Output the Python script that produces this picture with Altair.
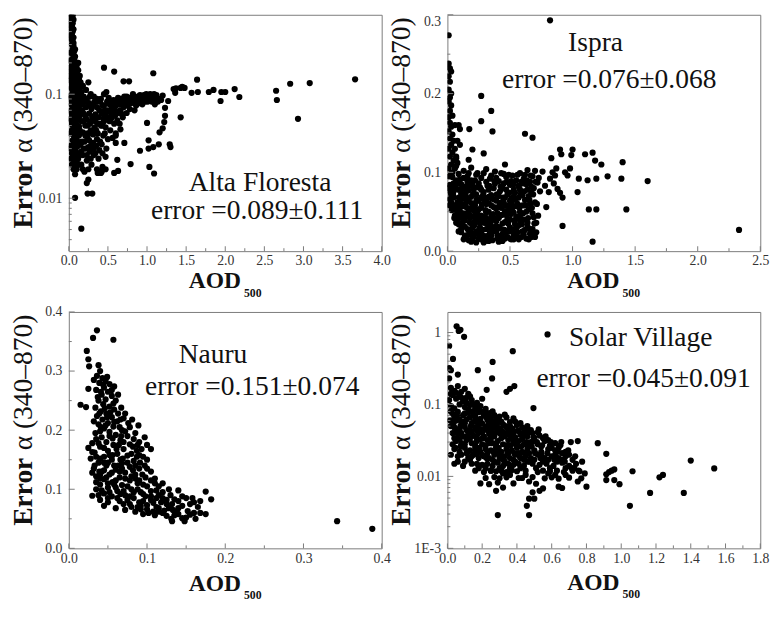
import altair as alt
import pandas as pd

# ---------------- data (AOD500, Error alpha) ----------------
alta_pts = [
    (0.03,0.58),(0.05,0.57),(0.04,0.54),(0.03,0.50),(0.05,0.48),(0.04,0.45),(0.03,0.42),(0.05,0.40),(0.04,0.37),
    (0.06,0.35),(0.03,0.34),(0.05,0.32),(0.04,0.30),(0.06,0.29),(0.05,0.27),(0.07,0.26),(0.04,0.25),(0.06,0.24),
    (0.08,0.23),(0.05,0.22),(0.07,0.215),(0.03,0.21),(0.09,0.20),(0.06,0.195),(0.04,0.19),(0.08,0.185),(0.10,0.18),
    (0.05,0.175),(0.07,0.17),(0.12,0.17),(0.03,0.165),(0.09,0.16),(0.06,0.155),(0.11,0.15),(0.04,0.145),(0.08,0.14),
    (0.13,0.14),(0.02,0.135),(0.06,0.13),(0.10,0.13),(0.15,0.13),(0.04,0.125),(0.08,0.12),(0.12,0.12),(0.03,0.115),
    (0.06,0.11),(0.10,0.11),(0.14,0.11),(0.05,0.105),(0.09,0.10),(0.13,0.10),(0.02,0.097),(0.07,0.095),(0.11,0.094),
    (0.16,0.095),(0.04,0.09),(0.09,0.088),(0.14,0.088),(0.06,0.084),(0.12,0.082),(0.03,0.08),(0.08,0.078),(0.15,0.079),
    (0.05,0.074),(0.10,0.073),(0.13,0.071),(0.02,0.069),(0.07,0.068),(0.11,0.066),(0.04,0.064),(0.09,0.062),(0.14,0.062),
    (0.06,0.059),(0.12,0.057),(0.03,0.056),(0.08,0.054),(0.10,0.051),(0.05,0.050),(0.13,0.049),(0.07,0.047),(0.04,0.045),
    (0.11,0.044),(0.09,0.042),(0.06,0.040),(0.13,0.040),(0.08,0.038),(0.05,0.036),(0.11,0.035),(0.07,0.033),(0.10,0.031),
    (0.06,0.030),(0.09,0.028),(0.12,0.027),(0.08,0.025),(0.05,0.024),(0.10,0.023),(0.07,0.022),(0.09,0.020),(0.06,0.019),
    (0.11,0.021),
    (0.01,0.21),(0.02,0.18),(0.01,0.15),(0.07,0.145),(0.09,0.125),(0.11,0.105),(0.01,0.09),(0.03,0.095),(0.05,0.085),
    (0.07,0.078),(0.12,0.092),(0.15,0.068),(0.16,0.055),(0.02,0.058),(0.04,0.052),(0.06,0.046),(0.08,0.06),(0.10,0.036),
    (0.12,0.032),(0.14,0.045),(0.02,0.042),(0.03,0.032),(0.04,0.027),(0.07,0.029),(0.12,0.024),(0.14,0.026),(0.15,0.033),
    (0.13,0.021),(0.04,0.021),(0.08,0.017),(0.10,0.019),(0.03,0.024),(0.02,0.03),(0.05,0.062),(0.09,0.07),(0.11,0.058),
    (0.13,0.078),(0.16,0.105),(0.17,0.09),(0.14,0.15),(0.12,0.2),(0.02,0.25),(0.08,0.27),(0.06,0.31),(0.02,0.37),
    (0.06,0.42),(0.02,0.46),(0.06,0.52),(0.02,0.55),
    (0.18,0.12),(0.22,0.11),(0.25,0.13),(0.28,0.10),(0.32,0.095),(0.36,0.09),(0.40,0.085),(0.45,0.10),(0.48,0.105),
    (0.52,0.08),(0.56,0.085),(0.60,0.078),(0.64,0.08),(0.68,0.082),(0.72,0.085),(0.76,0.08),(0.80,0.088),(0.84,0.082),
    (0.88,0.095),(0.92,0.09),(0.96,0.098),(1.00,0.092),(1.04,0.10),(1.08,0.095),(1.12,0.098),(1.16,0.09),(1.20,0.097),
    (0.74,0.095),(0.82,0.10),(0.90,0.085),(0.94,0.08),(0.98,0.085),(1.06,0.085),(1.10,0.08),(1.14,0.085),(0.70,0.075),
    (0.66,0.07),(0.78,0.072),(0.86,0.078),(0.55,0.065),(0.50,0.06),(0.46,0.07),(0.42,0.065),(0.38,0.06),(0.34,0.055),
    (0.30,0.06),(0.26,0.065),(0.22,0.075),(0.20,0.085),(0.17,0.07),(0.19,0.055),(0.24,0.05),(0.28,0.045),(0.33,0.048),
    (0.37,0.042),(0.41,0.05),(0.45,0.055),(0.58,0.052),(0.62,0.056),(0.53,0.045),(0.60,0.042),(0.66,0.046),(0.44,0.04),
    (0.50,0.037),(0.21,0.04),(0.26,0.036),(0.31,0.034),(0.35,0.032),(0.17,0.035),(0.22,0.03),(0.27,0.028),(0.32,0.026),
    (0.38,0.024),(0.43,0.027),(0.18,0.026),(0.23,0.023),(0.29,0.021),(0.16,0.021),(0.36,0.019),(0.42,0.018),(0.47,0.019),
    (0.25,0.019),(0.20,0.018),
    (0.19,0.095),(0.21,0.062),(0.23,0.09),(0.24,0.042),(0.26,0.082),(0.27,0.052),(0.29,0.072),(0.31,0.041),(0.33,0.085),
    (0.34,0.064),(0.36,0.075),(0.39,0.052),(0.40,0.035),(0.43,0.078),(0.44,0.058),(0.47,0.048),(0.49,0.085),(0.52,0.068),
    (0.54,0.058),(0.57,0.075),(0.59,0.062),(0.61,0.088),(0.63,0.068),(0.67,0.09),(0.69,0.06),(0.73,0.078),(0.76,0.09),
    (0.79,0.082),(0.83,0.095),(0.87,0.088),(0.91,0.098),(0.95,0.088),(0.99,0.10),(1.03,0.09),(1.07,0.088),(1.11,0.092),
    (1.18,0.088),(0.18,0.043),(0.21,0.05),(0.25,0.031),(0.29,0.033),(0.32,0.03),(0.16,0.028),(0.19,0.03),(0.23,0.026),
    (0.35,0.045),(0.39,0.029),(0.48,0.03),(0.52,0.055),(0.56,0.038),(0.65,0.052),(0.74,0.066),(0.84,0.07),
    (0.17,0.08),(0.19,0.065),(0.21,0.088),(0.23,0.057),(0.25,0.078),(0.27,0.095),(0.29,0.055),(0.31,0.078),(0.33,0.062),
    (0.35,0.085),(0.37,0.052),(0.39,0.07),(0.41,0.09),(0.43,0.05),(0.45,0.078),(0.47,0.062),(0.49,0.07),(0.51,0.092),
    (0.53,0.058),(0.55,0.075),(0.57,0.088),(0.59,0.07),(0.61,0.065),(0.63,0.092),(0.65,0.08),(0.67,0.065),(0.69,0.088),
    (0.71,0.095),(0.75,0.085),(0.78,0.092),(0.81,0.085),(0.85,0.09),(0.89,0.082),(0.93,0.095),(0.97,0.092),(1.01,0.085),
    (1.05,0.095),(1.09,0.10),(0.20,0.035),(0.24,0.038),(0.30,0.042),(0.36,0.037),(0.42,0.033),(0.46,0.042),(0.34,0.027),
    (0.28,0.024),
    (0.45,0.18),(0.58,0.165),(3.66,0.139),(3.08,0.128),(2.83,0.126),(2.65,0.108),(2.66,0.088),(2.93,0.058),(2.18,0.094),
    (2.12,0.112),(1.95,0.105),(2.00,0.105),(1.94,0.086),(1.85,0.11),(1.79,0.105),(1.65,0.105),(1.64,0.138),(1.57,0.103),
    (1.48,0.115),(1.45,0.118),(1.43,0.115),(1.37,0.114),(1.34,0.112),(1.36,0.103),(1.27,0.086),(1.23,0.074),(1.23,0.062),
    (1.43,0.060),(1.22,0.054),(1.20,0.047),(1.16,0.043),(1.29,0.033),(1.30,0.031),(1.15,0.033),(1.08,0.031),(1.02,0.030),
    (1.02,0.036),(1.00,0.053),(1.03,0.020),(1.09,0.0173),(0.91,0.0286),(0.79,0.0213),(0.77,0.133),(0.70,0.133),(1.08,0.159),
    (0.71,0.034),(0.60,0.034),(0.60,0.040),(0.58,0.0175),(0.63,0.0183),(0.62,0.0234),(0.47,0.025),(0.41,0.0175),
    (0.37,0.0175),(0.43,0.020),(0.25,0.0151),(0.23,0.014),(0.24,0.0111),(0.30,0.0111),(0.08,0.0101),(0.16,0.0051),
    (0.07,0.019),(0.18,0.019),
]

ispra_pts = [
    (0.01,0.274),(0.01,0.238),(0.02,0.232),(0.03,0.228),(0.01,0.222),(0.02,0.215),(0.01,0.205),(0.03,0.20),(0.02,0.195),
    (0.01,0.19),(0.03,0.185),(0.02,0.178),(0.04,0.172),(0.01,0.17),(0.02,0.163),(0.03,0.158),(0.01,0.152),(0.04,0.148),
    (0.02,0.143),(0.05,0.14),(0.03,0.135),(0.01,0.13),(0.06,0.13),(0.04,0.125),(0.02,0.12),(0.07,0.12),(0.05,0.115),
    (0.03,0.11),(0.08,0.112),(0.01,0.105),(0.06,0.105),(0.04,0.10),(0.09,0.16),(0.10,0.155),(0.06,0.16),(0.08,0.14),
    (0.10,0.135),
    (0.07,0.108),(0.13,0.102),(0.19,0.106),(0.24,0.099),(0.31,0.104),(0.38,0.101),(0.45,0.098),(0.52,0.096),(0.58,0.099),
    (0.64,0.103),(0.70,0.102),(0.76,0.101),
    (0.04,0.094),(0.10,0.091),(0.16,0.095),(0.22,0.09),(0.27,0.093),(0.34,0.092),(0.41,0.089),(0.47,0.094),(0.55,0.09),
    (0.61,0.092),(0.66,0.088),(0.73,0.093),
    (0.02,0.084),(0.08,0.086),(0.14,0.082),(0.20,0.085),(0.26,0.081),(0.32,0.083),(0.38,0.086),(0.44,0.08),(0.50,0.084),
    (0.57,0.082),(0.63,0.085),(0.69,0.08),(0.78,0.083),
    (0.05,0.076),(0.11,0.073),(0.17,0.077),(0.23,0.072),(0.29,0.075),(0.35,0.071),(0.42,0.076),(0.48,0.072),(0.54,0.074),
    (0.60,0.071),(0.67,0.075),
    (0.02,0.066),(0.08,0.062),(0.13,0.067),(0.19,0.061),(0.25,0.064),(0.31,0.06),(0.37,0.066),(0.43,0.062),(0.50,0.064),
    (0.56,0.06),(0.62,0.065),(0.70,0.062),
    (0.04,0.055),(0.10,0.051),(0.15,0.056),(0.21,0.052),(0.27,0.055),(0.33,0.05),(0.39,0.054),(0.46,0.051),(0.52,0.055),
    (0.58,0.05),(0.65,0.053),
    (0.06,0.045),(0.12,0.042),(0.18,0.046),(0.24,0.041),(0.30,0.044),(0.36,0.04),(0.42,0.045),(0.48,0.041),(0.55,0.044),
    (0.61,0.04),(0.69,0.043),
    (0.09,0.034),(0.14,0.031),(0.20,0.035),(0.26,0.03),(0.32,0.034),(0.38,0.031),(0.44,0.035),(0.50,0.03),(0.57,0.033),
    (0.64,0.031),(0.71,0.036),
    (0.11,0.024),(0.17,0.021),(0.23,0.025),(0.28,0.02),(0.34,0.023),(0.40,0.02),(0.47,0.024),(0.53,0.021),(0.60,0.025),
    (0.66,0.022),(0.71,0.024),
    (0.13,0.015),(0.19,0.012),(0.25,0.016),(0.29,0.011),(0.36,0.014),(0.44,0.013),(0.50,0.016),(0.57,0.015),(0.65,0.015),
    (0.03,0.072),(0.06,0.058),(0.09,0.078),(0.12,0.057),(0.15,0.068),(0.18,0.036),(0.21,0.078),(0.24,0.047),(0.27,0.068),
    (0.16,0.088),(0.22,0.058),(0.28,0.038),(0.33,0.078),(0.35,0.058),(0.40,0.048),(0.46,0.068),(0.53,0.078),(0.59,0.088),
    (0.64,0.078),(0.68,0.095),(0.05,0.086),(0.11,0.028),(0.21,0.018),(0.31,0.028),(0.39,0.038),(0.49,0.058),(0.57,0.068),
    (0.03,0.098),(0.05,0.08),(0.07,0.09),(0.09,0.098),(0.11,0.085),(0.13,0.093),(0.15,0.076),(0.17,0.099),(0.19,0.09),
    (0.21,0.081),(0.23,0.097),(0.25,0.086),(0.27,0.078),(0.29,0.099),(0.31,0.088),(0.33,0.069),(0.35,0.096),(0.37,0.08),
    (0.39,0.093),(0.41,0.07),(0.43,0.099),(0.45,0.086),(0.47,0.078),(0.49,0.097),(0.51,0.089),(0.53,0.069),(0.56,0.097),
    (0.58,0.078),(0.60,0.086),(0.62,0.097),(0.65,0.07),(0.67,0.082),(0.72,0.087),(0.74,0.076),
    (0.03,0.062),(0.05,0.068),(0.07,0.052),(0.09,0.068),(0.11,0.06),(0.13,0.048),(0.15,0.062),(0.17,0.052),(0.19,0.069),
    (0.21,0.044),(0.23,0.063),(0.25,0.053),(0.27,0.045),(0.29,0.066),(0.31,0.049),(0.33,0.061),(0.35,0.044),(0.37,0.056),
    (0.39,0.064),(0.41,0.042),(0.43,0.055),(0.45,0.062),(0.47,0.046),(0.49,0.052),(0.51,0.067),(0.53,0.049),(0.55,0.057),
    (0.58,0.045),(0.60,0.058),(0.63,0.05),(0.66,0.06),(0.68,0.048),
    (0.08,0.04),(0.10,0.045),(0.12,0.033),(0.14,0.039),(0.16,0.028),(0.18,0.042),(0.20,0.03),(0.22,0.038),(0.24,0.022),
    (0.26,0.035),(0.28,0.027),(0.30,0.038),(0.32,0.018),(0.34,0.03),(0.36,0.025),(0.38,0.041),(0.40,0.016),(0.42,0.029),
    (0.44,0.022),(0.46,0.037),(0.48,0.018),(0.50,0.04),(0.52,0.027),(0.54,0.034),(0.56,0.024),(0.58,0.039),(0.62,0.027),
    (0.64,0.036),(0.67,0.018),
    (0.15,0.02),(0.17,0.014),(0.21,0.022),(0.23,0.011),(0.27,0.015),(0.31,0.019),(0.33,0.013),(0.39,0.025),(0.41,0.012),
    (0.46,0.016),(0.53,0.015),(0.59,0.018),(0.63,0.016),(0.70,0.018),
    (0.045,0.072),(0.065,0.081),(0.085,0.047),(0.095,0.057),(0.105,0.066),(0.115,0.079),(0.125,0.038),(0.135,0.058),
    (0.145,0.071),(0.155,0.045),(0.165,0.064),(0.175,0.083),(0.185,0.025),(0.195,0.055),(0.205,0.072),(0.215,0.033),
    (0.225,0.049),(0.235,0.066),(0.245,0.081),(0.255,0.028),(0.265,0.043),(0.275,0.059),(0.285,0.071),(0.295,0.036),
    (0.305,0.052),(0.315,0.067),(0.325,0.04),(0.335,0.083),(0.345,0.036),(0.355,0.067),(0.365,0.047),(0.375,0.089),
    (0.385,0.055),(0.395,0.072),(0.405,0.031),(0.415,0.058),(0.425,0.082),(0.435,0.046),(0.445,0.068),(0.455,0.027),
    (0.465,0.058),(0.475,0.088),(0.485,0.035),(0.495,0.074),(0.505,0.047),(0.515,0.061),(0.525,0.085),(0.535,0.039),
    (0.545,0.066),(0.555,0.03),(0.565,0.083),(0.575,0.055),(0.585,0.072),(0.595,0.034),(0.605,0.048),(0.615,0.076),
    (0.625,0.058),(0.635,0.09),(0.645,0.042),(0.655,0.065),(0.665,0.096),(0.675,0.055),(0.685,0.072),(0.695,0.035),
    (0.705,0.088),(0.715,0.06),(0.725,0.045),(0.07,0.036),(0.09,0.025),(0.14,0.019),(0.16,0.048),(0.20,0.016),
    (0.26,0.022),(0.30,0.013),(0.35,0.02),(0.37,0.03),(0.43,0.018),(0.49,0.025),(0.51,0.015),(0.55,0.019),(0.61,0.021),
    (0.66,0.028),(0.015,0.095),(0.025,0.075),(0.035,0.052),(0.055,0.042),(0.018,0.058),(0.012,0.08),
    (0.79,0.056),(0.82,0.092),(0.84,0.10),(0.85,0.086),(0.86,0.096),(0.88,0.079),(0.90,0.074),(0.92,0.068),(0.94,0.10),
    (0.96,0.096),(0.98,0.105),(0.81,0.075),(0.87,0.105),
    (0.82,0.293),(0.27,0.197),(0.27,0.165),(0.175,0.155),(0.35,0.178),(0.36,0.152),(0.62,0.149),(0.68,0.144),(0.20,0.129),
    (0.29,0.124),(0.17,0.116),(0.07,0.118),(0.90,0.129),(0.91,0.123),(0.83,0.118),(0.99,0.122),(1.00,0.129),(1.10,0.123),
    (1.16,0.125),(1.18,0.115),(1.23,0.11),(1.40,0.113),(1.28,0.095),(1.19,0.092),(1.12,0.09),(1.05,0.092),(1.04,0.075),
    (1.39,0.092),(1.60,0.089),(1.13,0.053),(1.19,0.053),(1.43,0.053),(1.16,0.012),(0.92,0.032),(2.33,0.027),(0.46,0.11),
    (0.68,0.028),(0.68,0.023),
]

nauru_pts = [
    (0.036,0.369),(0.031,0.356),(0.057,0.353),(0.023,0.334),(0.025,0.32),(0.026,0.308),(0.025,0.27),(0.015,0.243),
    (0.022,0.239),(0.038,0.31),(0.040,0.30),(0.036,0.292),(0.043,0.288),(0.047,0.283),(0.039,0.28),(0.052,0.278),
    (0.058,0.274),(0.045,0.272),(0.035,0.268),(0.050,0.265),(0.042,0.26),(0.055,0.258),(0.047,0.252),(0.038,0.25),
    (0.060,0.25),(0.044,0.244),(0.052,0.24),(0.034,0.238),(0.058,0.235),(0.041,0.232),(0.048,0.228),(0.063,0.228),
    (0.036,0.224),(0.055,0.222),(0.070,0.22),(0.043,0.218),(0.062,0.215),(0.050,0.212),(0.076,0.212),(0.038,0.21),
    (0.057,0.206),(0.089,0.208),(0.045,0.203),(0.068,0.20),(0.052,0.197),(0.034,0.195),(0.060,0.192),(0.075,0.19),
    (0.042,0.188),(0.083,0.185),(0.066,0.183),(0.048,0.18),(0.090,0.18),(0.030,0.178),(0.057,0.175),(0.078,0.176),
    (0.040,0.172),(0.100,0.175),(0.070,0.168),(0.025,0.17),(0.050,0.165),(0.087,0.165),(0.033,0.162),(0.062,0.16),
    (0.105,0.168),(0.075,0.157),(0.045,0.155),(0.095,0.155),(0.028,0.152),(0.055,0.15),(0.083,0.148),(0.038,0.145),
    (0.068,0.144),(0.100,0.15),(0.048,0.14),(0.078,0.138),(0.032,0.135),(0.060,0.133),(0.090,0.135),(0.042,0.13),
    (0.072,0.128),(0.052,0.125),(0.085,0.125),(0.035,0.122),(0.065,0.12),(0.098,0.12),(0.045,0.117),(0.078,0.115),
    (0.110,0.118),(0.056,0.112),(0.040,0.108),(0.088,0.11),(0.068,0.107),(0.120,0.11),(0.050,0.103),(0.100,0.105),
    (0.080,0.10),(0.035,0.10),(0.062,0.097),(0.112,0.098),(0.045,0.093),(0.092,0.095),(0.128,0.10),(0.072,0.09),
    (0.030,0.089),(0.055,0.088),(0.105,0.088),(0.140,0.098),(0.083,0.085),(0.120,0.085),(0.040,0.082),(0.065,0.08),
    (0.095,0.08),(0.135,0.083),(0.150,0.085),(0.158,0.085),(0.175,0.096),(0.182,0.083),(0.168,0.08),(0.108,0.077),
    (0.078,0.075),(0.045,0.072),(0.125,0.075),(0.088,0.07),(0.145,0.072),(0.060,0.068),(0.100,0.066),(0.115,0.068),
    (0.072,0.065),(0.133,0.065),(0.085,0.062),(0.160,0.06),(0.095,0.058),(0.120,0.06),(0.140,0.058),(0.152,0.063),
    (0.175,0.058),(0.110,0.056),(0.131,0.05),(0.132,0.046),(0.148,0.046),(0.150,0.052),(0.162,0.05),
    (0.032,0.285),(0.049,0.29),(0.055,0.268),(0.041,0.265),(0.063,0.26),(0.046,0.237),(0.067,0.238),(0.039,0.228),
    (0.053,0.23),(0.072,0.228),(0.032,0.215),(0.058,0.214),(0.081,0.218),(0.047,0.208),(0.065,0.205),(0.072,0.198),
    (0.040,0.198),(0.085,0.195),(0.056,0.186),(0.097,0.188),(0.035,0.185),(0.070,0.18),(0.082,0.172),(0.045,0.17),
    (0.061,0.168),(0.093,0.168),(0.030,0.163),(0.056,0.158),(0.069,0.152),(0.087,0.155),(0.040,0.152),(0.050,0.145),
    (0.091,0.145),(0.063,0.14),(0.033,0.14),(0.075,0.145),(0.097,0.14),(0.045,0.132),(0.082,0.132),(0.105,0.13),
    (0.068,0.135),(0.055,0.128),(0.030,0.128),(0.094,0.125),(0.040,0.118),(0.060,0.115),(0.072,0.118),(0.105,0.115),
    (0.085,0.118),(0.050,0.11),(0.095,0.108),(0.115,0.105),(0.075,0.105),(0.060,0.103),(0.042,0.098),(0.088,0.10),
    (0.105,0.097),(0.120,0.095),(0.070,0.097),(0.052,0.095),(0.130,0.09),(0.098,0.088),(0.078,0.088),(0.112,0.085),
    (0.062,0.085),(0.145,0.088),(0.090,0.078),(0.118,0.078),(0.132,0.075),(0.100,0.073),(0.070,0.075),(0.155,0.075),
    (0.128,0.068),(0.108,0.062),(0.092,0.066),(0.080,0.07),(0.138,0.062),(0.155,0.057),(0.125,0.055),(0.168,0.06),
    (0.145,0.051),(0.102,0.06),(0.050,0.078),(0.038,0.09),(0.035,0.112),
    (0.044,0.277),(0.037,0.256),(0.057,0.245),(0.049,0.222),(0.066,0.218),(0.041,0.205),(0.078,0.205),(0.052,0.19),
    (0.067,0.19),(0.038,0.178),(0.088,0.175),(0.064,0.175),(0.052,0.158),(0.080,0.16),(0.035,0.155),(0.066,0.15),
    (0.090,0.158),(0.045,0.145),(0.058,0.14),(0.085,0.14),(0.039,0.13),(0.065,0.13),(0.100,0.135),(0.048,0.12),
    (0.080,0.122),(0.090,0.115),(0.058,0.108),(0.110,0.11),(0.066,0.092),(0.083,0.095),(0.115,0.09),(0.095,0.092),
    (0.125,0.082),(0.140,0.08),(0.105,0.082),(0.075,0.082),(0.092,0.072),(0.112,0.07),(0.140,0.068),(0.122,0.064),
    (0.135,0.056),(0.115,0.062),(0.165,0.07),(0.160,0.078),(0.050,0.085),(0.040,0.125),
    (0.343,0.046),(0.388,0.033),
]

solar_pts = [
    (0.02,0.17),(0.04,0.155),(0.06,0.18),(0.08,0.15),(0.10,0.165),(0.12,0.14),(0.03,0.135),(0.07,0.13),
    (0.01,0.115),(0.05,0.12),(0.09,0.11),(0.11,0.125),(0.14,0.115),(0.17,0.105),(0.20,0.12),
    (0.02,0.095),(0.04,0.088),(0.07,0.10),(0.10,0.092),(0.13,0.098),(0.16,0.09),(0.19,0.095),(0.22,0.087),(0.26,0.08),
    (0.03,0.074),(0.06,0.079),(0.09,0.071),(0.12,0.077),(0.15,0.072),(0.18,0.078),(0.21,0.07),(0.24,0.076),(0.27,0.071),
    (0.30,0.068),(0.34,0.066),(0.38,0.064),
    (0.05,0.06),(0.08,0.056),(0.11,0.062),(0.14,0.055),(0.17,0.059),(0.20,0.054),(0.23,0.061),(0.26,0.056),(0.29,0.058),
    (0.32,0.053),(0.36,0.057),(0.40,0.052),(0.43,0.048),
    (0.04,0.048),(0.07,0.045),(0.10,0.049),(0.13,0.044),(0.16,0.048),(0.19,0.045),(0.22,0.049),(0.25,0.044),(0.28,0.047),
    (0.31,0.043),(0.34,0.048),(0.37,0.045),(0.41,0.043),(0.45,0.046),(0.49,0.04),
    (0.06,0.039),(0.09,0.036),(0.12,0.04),(0.15,0.037),(0.18,0.04),(0.21,0.036),(0.24,0.039),(0.27,0.036),(0.30,0.04),
    (0.33,0.037),(0.36,0.039),(0.39,0.035),(0.42,0.038),(0.46,0.036),(0.50,0.034),(0.53,0.037),
    (0.03,0.028),(0.05,0.031),(0.08,0.029),(0.11,0.032),(0.14,0.029),(0.17,0.031),(0.20,0.028),(0.23,0.032),(0.26,0.029),
    (0.29,0.031),(0.32,0.028),(0.35,0.032),(0.38,0.029),(0.41,0.031),(0.44,0.028),(0.48,0.03),(0.52,0.028),(0.56,0.031),
    (0.59,0.027),
    (0.04,0.024),(0.07,0.022),(0.10,0.025),(0.13,0.023),(0.16,0.025),(0.19,0.022),(0.22,0.024),(0.25,0.023),(0.28,0.025),
    (0.31,0.022),(0.34,0.024),(0.37,0.023),(0.40,0.025),(0.43,0.022),(0.46,0.024),(0.50,0.023),(0.54,0.022),(0.58,0.024),
    (0.62,0.023),(0.66,0.021),
    (0.06,0.019),(0.12,0.018),(0.15,0.02),(0.18,0.018),(0.21,0.019),(0.24,0.018),(0.27,0.02),(0.30,0.018),(0.33,0.019),
    (0.36,0.018),(0.39,0.02),(0.42,0.018),(0.45,0.019),(0.48,0.018),(0.52,0.02),(0.56,0.018),(0.60,0.019),(0.64,0.018),
    (0.68,0.019),(0.72,0.017),
    (0.04,0.015),(0.09,0.014),(0.14,0.015),(0.20,0.0145),(0.23,0.015),(0.26,0.014),(0.29,0.0155),(0.32,0.014),(0.35,0.015),
    (0.38,0.0145),(0.41,0.015),(0.44,0.014),(0.49,0.015),(0.53,0.0145),(0.57,0.015),(0.61,0.014),(0.66,0.0155),(0.70,0.014),
    (0.74,0.015),
    (0.16,0.012),(0.21,0.0115),(0.25,0.012),(0.28,0.0118),(0.31,0.012),(0.34,0.0115),(0.37,0.0122),(0.40,0.0118),(0.45,0.012),
    (0.52,0.0115),(0.55,0.012),(0.59,0.0118),(0.63,0.012),(0.67,0.0115),(0.72,0.012),(0.76,0.0118),(0.79,0.011),
    (0.22,0.0095),(0.27,0.0098),(0.30,0.0094),(0.34,0.0097),(0.43,0.0095),(0.49,0.0098),(0.56,0.0094),(0.60,0.0097),
    (0.64,0.0093),(0.70,0.0096),(0.77,0.0094),
    (0.19,0.008),(0.24,0.0078),(0.29,0.0082),(0.38,0.008),(0.51,0.0079),(0.75,0.0085),(0.80,0.0072),
    (0.28,0.0063),(0.32,0.007),(0.49,0.006),(0.53,0.0063),(0.55,0.0068),(0.64,0.0072),(0.66,0.0069),
    (0.02,0.14),(0.05,0.145),(0.08,0.125),(0.11,0.105),(0.13,0.13),(0.15,0.10),(0.18,0.092),(0.02,0.08),(0.04,0.065),
    (0.07,0.062),(0.10,0.075),(0.13,0.066),(0.16,0.068),(0.19,0.063),(0.22,0.075),(0.25,0.066),(0.28,0.062),(0.31,0.058),
    (0.33,0.072),(0.36,0.05),(0.39,0.058),(0.42,0.055),(0.46,0.05),(0.02,0.05),(0.05,0.042),(0.08,0.04),(0.11,0.044),
    (0.14,0.041),(0.17,0.043),(0.20,0.041),(0.23,0.044),(0.26,0.04),(0.29,0.043),(0.32,0.041),(0.35,0.043),(0.38,0.04),
    (0.44,0.041),(0.48,0.044),(0.52,0.041),(0.55,0.034),(0.58,0.032),(0.62,0.029),(0.65,0.027),(0.04,0.034),(0.07,0.033),
    (0.10,0.028),(0.13,0.034),(0.16,0.027),(0.19,0.033),(0.22,0.027),(0.25,0.034),(0.28,0.027),(0.31,0.034),(0.34,0.027),
    (0.37,0.034),(0.40,0.027),(0.43,0.033),(0.46,0.027),(0.50,0.031),(0.54,0.026),(0.60,0.025),(0.64,0.025),(0.68,0.022),
    (0.08,0.02),(0.11,0.021),(0.14,0.019),(0.17,0.021),(0.20,0.02),(0.23,0.021),(0.26,0.017),(0.29,0.021),(0.32,0.017),
    (0.35,0.021),(0.38,0.017),(0.41,0.021),(0.44,0.017),(0.47,0.021),(0.50,0.017),(0.54,0.02),(0.58,0.017),(0.62,0.02),
    (0.66,0.017),(0.70,0.02),(0.17,0.015),(0.22,0.013),(0.27,0.016),(0.30,0.013),(0.33,0.016),(0.36,0.013),(0.39,0.016),
    (0.42,0.013),(0.46,0.016),(0.51,0.013),(0.55,0.016),(0.59,0.013),(0.63,0.016),(0.68,0.013),(0.73,0.013),(0.13,0.017),
    (0.10,0.016),(0.06,0.016),(0.02,0.02),(0.03,0.04),
    (0.015,0.06),(0.035,0.055),(0.055,0.07),(0.075,0.05),(0.095,0.058),(0.115,0.036),(0.135,0.05),(0.155,0.058),
    (0.165,0.035),(0.175,0.05),(0.185,0.025),(0.195,0.055),(0.205,0.034),(0.215,0.045),(0.225,0.018),(0.235,0.052),
    (0.245,0.029),(0.255,0.048),(0.265,0.022),(0.275,0.04),(0.285,0.052),(0.295,0.025),(0.305,0.046),(0.315,0.019),
    (0.325,0.036),(0.335,0.05),(0.345,0.022),(0.355,0.038),(0.365,0.027),(0.375,0.046),(0.385,0.021),(0.395,0.03),
    (0.405,0.043),(0.415,0.019),(0.425,0.026),(0.435,0.037),(0.445,0.021),(0.455,0.03),(0.465,0.041),(0.475,0.016),
    (0.485,0.026),(0.495,0.035),(0.505,0.021),(0.515,0.03),(0.525,0.045),(0.535,0.018),(0.545,0.027),(0.565,0.036),
    (0.575,0.021),(0.595,0.03),(0.615,0.017),(0.635,0.022),(0.655,0.03),(0.675,0.016),(0.695,0.023),(0.715,0.013),
    (0.735,0.019),(0.755,0.012),(0.775,0.016),(0.12,0.085),(0.145,0.08),(0.165,0.085),(0.195,0.08),(0.225,0.066),
    (0.245,0.058),(0.275,0.05),(0.10,0.055),(0.06,0.045),(0.045,0.025),(0.075,0.026),(0.12,0.022),(0.16,0.022),
    (0.18,0.013),(0.25,0.012),(0.32,0.011),(0.36,0.0105),(0.41,0.0095),(0.45,0.0105),(0.47,0.0085),(0.58,0.011),
    (0.62,0.0105),(0.68,0.0105),
    (0.29,0.0029),(0.47,0.0029),(0.457,0.0039),(0.47,0.0049),(0.50,0.0049),
    (0.053,1.22),(0.075,1.09),(0.065,1.05),(0.096,0.87),(0.01,0.65),(0.032,0.43),(0.01,0.32),(0.02,0.30),(0.01,0.23),
    (0.06,0.26),(0.175,0.30),(0.226,0.16),(0.26,0.39),(0.257,0.23),(0.376,0.55),(0.576,0.94),(0.34,0.15),(0.36,0.165),
    (0.385,0.18),(0.495,0.089),(0.865,0.029),(0.914,0.0206),(1.40,0.0166),(1.535,0.0129),(0.914,0.0107),(0.93,0.0115),
    (0.945,0.012),(0.96,0.0125),(0.914,0.0089),(0.96,0.0089),(0.99,0.0078),(1.065,0.0118),(1.22,0.0097),(1.24,0.0105),
    (1.166,0.0059),(1.36,0.0059),(1.05,0.0039),(0.71,0.030),(0.75,0.031),
]

site_names = ["Alta Floresta", "Ispra", "Nauru", "Solar Village"]
error_texts = ["error =0.089\u00b10.111", "error =0.076\u00b10.068",
               "error =0.151\u00b10.074", "error =0.045\u00b10.091"]

# axis ticks (values in data units)
alta_xticks = [0, 0.5, 1.0, 1.5, 2.0, 2.5, 3.0, 3.5, 4.0]
alta_xminor = [0.25, 0.75, 1.25, 1.75, 2.25, 2.75, 3.25, 3.75]
alta_yticks = [0.01, 0.1]
alta_yminor = [0.004, 0.005, 0.006, 0.007, 0.008, 0.009, 0.02, 0.03, 0.04, 0.05, 0.06, 0.07, 0.08, 0.09,
               0.2, 0.3, 0.4, 0.5]
ispra_xticks = [0, 0.5, 1.0, 1.5, 2.0, 2.5]
ispra_xminor = [0.25, 0.75, 1.25, 1.75, 2.25]
ispra_yticks = [0, 0.1, 0.2, 0.3]
ispra_yminor = [0.05, 0.15, 0.25]
nauru_xticks = [0, 0.1, 0.2, 0.3, 0.4]
nauru_xminor = [0.05, 0.15, 0.25, 0.35]
nauru_yticks = [0, 0.1, 0.2, 0.3, 0.4]
nauru_yminor = [0.05, 0.15, 0.25, 0.35]
solar_xticks = [0, 0.2, 0.4, 0.6, 0.8, 1.0, 1.2, 1.4, 1.6, 1.8]
solar_xminor = [0.1, 0.3, 0.5, 0.7, 0.9, 1.1, 1.3, 1.5, 1.7]
solar_yticks = [0.001, 0.01, 0.1, 1]
solar_yminor = [0.002, 0.003, 0.004, 0.005, 0.006, 0.007, 0.008, 0.009,
                0.02, 0.03, 0.04, 0.05, 0.06, 0.07, 0.08, 0.09,
                0.2, 0.3, 0.4, 0.5, 0.6, 0.7, 0.8, 0.9]

FONT = "Liberation Serif"
FRAME = "#7a7a7a"
INK = "#111111"
W, H = 319, 241


def text_layer(s, x, y, size, weight="normal", align="center", angle=0, baseline="alphabetic"):
    return alt.Chart(pd.DataFrame({"t": [s]})).mark_text(
        text=s, font=FONT, fontSize=size, fontWeight=weight, align=align,
        baseline=baseline, angle=angle, color=INK
    ).encode(x=alt.value(x), y=alt.value(y))


def panel(pts, xdom, ydom, ylog, xt, xm, yt, ym, name, err, name_xy, err_xy, aod_dy, top_label_inside=False):
    df = pd.DataFrame(pts, columns=["aod", "err"])
    xs = alt.Scale(domain=xdom, nice=False, zero=False)
    common = dict(title=None, grid=False, ticks=False, tickSize=0, domain=False,
                  labelFont=FONT, labelFontSize=14, labelColor="#333")
    ybase = {}
    if top_label_inside:
        ybase = dict(labelBaseline={"condition": {"test": f"datum.value >= {ydom[1]}", "value": "top"},
                                    "value": "middle"})
    if ylog:
        ys = alt.Scale(type="log", domain=ydom, nice=False)
        yaxis = alt.Axis(values=yt, format="~g",
                         labelExpr="datum.value < 0.005 ? '1E-3' : datum.label",
                         labelPadding=7, **ybase, **common)
    else:
        ys = alt.Scale(domain=ydom, nice=False, zero=False)
        yaxis = alt.Axis(values=yt, format=".1f", labelPadding=7, **ybase, **common)
    xaxis = alt.Axis(values=xt, format=".1f", labelPadding=3, labelFlush=False,
                     labelOverlap=False, **common)

    pts_layer = alt.Chart(df).mark_circle(size=40, color="black", opacity=1, clip=True).encode(
        x=alt.X("aod:Q", scale=xs, axis=xaxis),
        y=alt.Y("err:Q", scale=ys, axis=yaxis),
    )

    def xtick(vals, ln):
        return alt.Chart(pd.DataFrame({"aod": vals})).mark_rule(color=FRAME, strokeWidth=1).encode(
            x=alt.X("aod:Q", scale=xs, axis=xaxis), y=alt.value(H), y2=alt.value(H - ln))

    def ytick(vals, ln):
        return alt.Chart(pd.DataFrame({"err": vals})).mark_rule(color=FRAME, strokeWidth=1).encode(
            y=alt.Y("err:Q", scale=ys, axis=yaxis), x=alt.value(0), x2=alt.value(ln))

    layers = [
        pts_layer,
        xtick(xt, 5), xtick(xm, 3), ytick(yt, 6), ytick(ym, 3),
        text_layer(name, name_xy[0], name_xy[1], 28),
        text_layer(err, err_xy[0], err_xy[1], 28),
        text_layer("AOD", W / 2 + 16, H + aod_dy, 24, weight="bold", align="right"),
        text_layer("500", W / 2 + 19, H + aod_dy + 9, 12, weight="bold", align="left"),
        text_layer("Error", -46, 218, 28, weight="bold", align="left", angle=270, baseline="middle"),
        text_layer("\u03b1 (340\u2013870)", -46, 141, 28, align="left", angle=270, baseline="middle"),
    ]
    return alt.layer(*layers).properties(width=W, height=H)


p1 = panel(alta_pts, [0, 4], [0.0031, 0.58], True, alta_xticks, alta_xminor, alta_yticks, alta_yminor,
           site_names[0], error_texts[0], (195, 180), (192, 208), 38)
p2 = panel(ispra_pts, [0, 2.5], [0, 0.3], False, ispra_xticks, ispra_xminor, ispra_yticks, ispra_yminor,
           site_names[1], error_texts[1], (151, 37), (165, 75), 38, top_label_inside=True)
p3 = panel(nauru_pts, [0, 0.4], [0, 0.4], False, nauru_xticks, nauru_xminor, nauru_yticks, nauru_yminor,
           site_names[2], error_texts[2], (147, 52), (187, 85), 43)
p4 = panel(solar_pts, [0, 1.8], [0.001, 1.93], True, solar_xticks, solar_xminor, solar_yticks, solar_yminor,
           site_names[3], error_texts[3], (197, 35), (200, 76), 42)

chart = alt.concat(p1, p2, p3, p4, columns=2, spacing={"row": 62, "column": 67}, bounds="flush").configure_view(
    stroke=FRAME, strokeWidth=1
).properties(background="white", padding={"top": 0, "left": 1, "right": 5, "bottom": 5})

chart.save("out.html", embed_options={"renderer": "svg", "actions": False})
